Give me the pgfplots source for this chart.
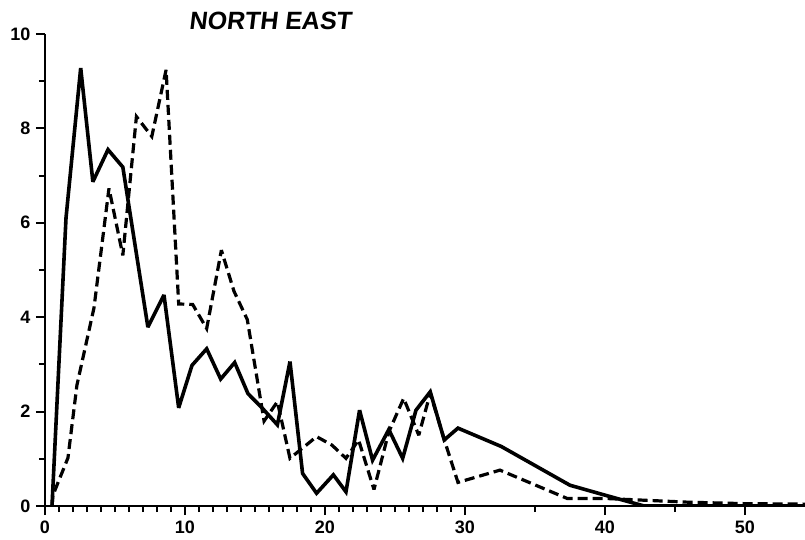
\documentclass[border=0pt]{standalone}
\usepackage{fontspec}
\setmainfont{Liberation Sans}
\newfontfamily\titlefont[FakeSlant=0.12]{Liberation Sans}
\usepackage{pgfplots}
\pgfplotsset{compat=1.18}
\begin{document}
\begin{tikzpicture}
\useasboundingbox (0pt,0pt) rectangle (805pt,539pt);
\begin{axis}[
  at={(45pt,33pt)}, anchor=south west,
  scale only axis, width=760pt, height=472pt,
  xmin=0, xmax=54.29, ymin=0, ymax=10,
  axis x line=bottom, axis y line=left,
  axis line style={-, line width=2.5pt},
  tick align=outside,
  major tick length=9pt, minor tick length=6pt,
  every tick/.style={black, line width=2pt},
  xtick={0,10,20,30,40,50}, ytick={0,2,4,6,8,10},
  minor xtick={1,2,3,4,5,6,7,8,9,11,12,13,14,15,16,17,18,19,21,22,23,24,25,26,27,28,29,35,45},
  minor ytick={1,3,5,7,9},
  tick label style={font=\fontsize{18}{18}\selectfont\bfseries},
  yticklabel style={xshift=-2pt},
  xticklabel style={yshift=-2pt},
  /pgf/number format/assume math mode=true,
]
\addplot[black, line width=3.6pt, line join=miter, miter limit=3] coordinates {
(0.5,0) (1.5,6.1) (2.55,9.28) (3.42,6.87) (4.5,7.55) (5.56,7.18) (7.35,3.79) (8.5,4.47) (9.55,2.08) (10.5,2.98) (11.55,3.33) (12.55,2.69) (13.55,3.04) (14.5,2.38) (15.5,2.08) (16.6,1.72) (17.5,3.06) (18.4,0.69) (19.4,0.27) (20.6,0.66) (21.5,0.30) (22.47,2.03) (23.4,0.97) (24.56,1.62) (25.55,1.01) (26.5,2.03) (27.52,2.42) (28.52,1.40) (29.5,1.65) (32.6,1.26) (37.5,0.44) (40.0,0.23) (42.8,0) (54.29,0)
};
\addplot[black, line width=3.2pt, dash pattern=on 10pt off 5pt, line join=miter, miter limit=3] coordinates {
(0.5,0) (0.57,0.23) (1.64,1.02) (2.28,2.56) (3.5,4.2) (4.57,6.73) (5.56,5.31) (6.53,8.25) (7.63,7.83) (8.65,9.24) (9.55,4.28) (10.55,4.27) (11.55,3.76) (12.6,5.42) (13.5,4.55) (14.45,3.95) (15.65,1.8) (16.6,2.21) (17.5,1.01) (19.4,1.47) (20.5,1.29) (21.5,1.01) (22.4,1.4) (23.5,0.35) (24.56,1.57) (25.62,2.28) (26.7,1.5) (27.52,2.39) (28.6,1.33) (29.5,0.5) (32.5,0.76) (37.3,0.16) (40,0.16) (43,0.12) (46,0.08) (50,0.05) (54.29,0.04)
};
\end{axis}
\node[font=\fontsize{25}{25}\selectfont\titlefont\bfseries] at (270pt,518pt) {NORTH EAST};
\end{tikzpicture}
\end{document}
